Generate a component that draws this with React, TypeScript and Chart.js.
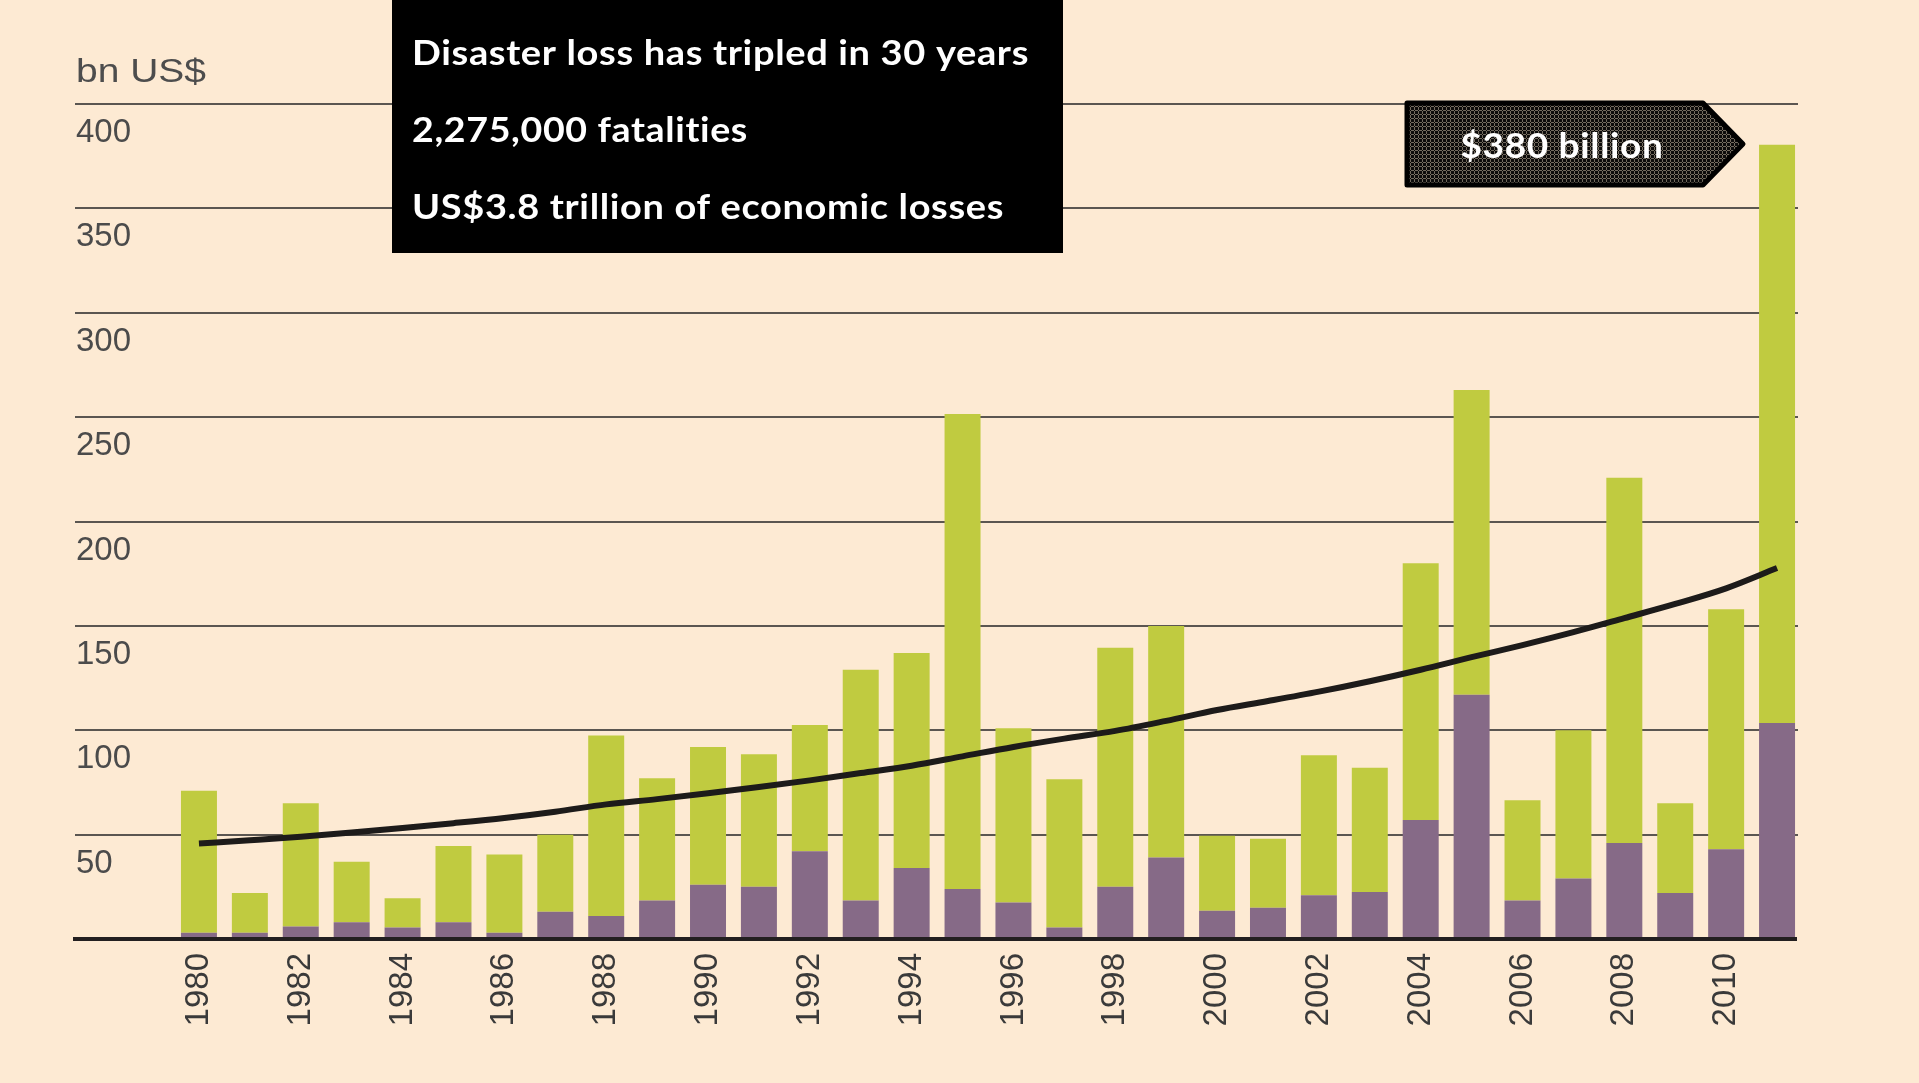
import { useEffect, useRef } from 'react';
import { Chart, registerables } from 'chart.js';

Chart.register(...registerables);

// ---- data (bn US$) ----
const years = [
  '1980', '1981', '1982', '1983', '1984', '1985', '1986', '1987', '1988', '1989',
  '1990', '1991', '1992', '1993', '1994', '1995', '1996', '1997', '1998', '1999',
  '2000', '2001', '2002', '2003', '2004', '2005', '2006', '2007', '2008', '2009',
  '2010', '2011',
];

// purple, bottom segment
const insuredLosses = [
  3, 3, 6, 8, 5.5, 8, 3, 13, 11, 18.5,
  26, 25, 42, 18.5, 34, 24, 17.5, 5.5, 25, 39,
  13.5, 15, 21, 22.5, 57, 117, 18.5, 29, 46, 22,
  43, 103.5,
];

// green, top segment
const uninsuredLosses = [
  68, 19, 59, 29, 14, 36.5, 37.5, 37, 86.5, 58.5,
  66, 63.5, 60.5, 110.5, 103, 227.5, 83.5, 71, 114.5, 111,
  36, 33, 67, 59.5, 123, 146, 48, 71, 175, 43,
  115, 277,
];

// trend curve
const trendLosses = [
  45.7, 47.3, 49, 51, 53.2, 55.5, 58, 61, 64.5, 67,
  69.8, 72.8, 76, 79.5, 83, 87.5, 92, 96, 99.7, 104.5,
  109.7, 114, 118.5, 123.5, 129, 135, 140.8, 147, 153.7, 160.5,
  168, 177.7,
];

const yMax = 400;
const yStep = 50;
const unitLabel = 'bn US$';
const boxLines = [
  'Disaster loss has tripled in 30 years',
  '2,275,000 fatalities',
  'US$3.8 trillion of economic losses',
];
const calloutText = '$380 billion';

const BG = '#FDEAD3';
const GREEN = '#C0CB40';
const PURPLE = '#866A87';
const AXIS_FONT = 'Liberation Sans';
const BOX_FONT = 'Lato';

function fitText(ctx: CanvasRenderingContext2D, text: string, x: number, y: number, targetW: number, align: 'left' | 'center') {
  const w = ctx.measureText(text).width;
  const sx = targetW / w;
  ctx.save();
  ctx.translate(x, y);
  ctx.scale(sx, 1);
  ctx.textAlign = align;
  ctx.textBaseline = 'alphabetic';
  ctx.fillText(text, 0, 0);
  ctx.restore();
}

const gridPlugin = {
  id: 'customGrid',
  beforeDatasetsDraw(chart: any) {
    const { ctx } = chart;
    const y = chart.scales.y;
    ctx.save();
    ctx.strokeStyle = '#5b5651';
    ctx.lineWidth = 2;
    y.ticks.forEach((t: any) => {
      if (t.value <= 0) return;
      const py = Math.round(y.getPixelForValue(t.value));
      ctx.beginPath();
      ctx.moveTo(75, py);
      ctx.lineTo(1798, py);
      ctx.stroke();
    });
    ctx.restore();
  },
  afterDatasetsDraw(chart: any) {
    const { ctx } = chart;
    const y = chart.scales.y;
    const py = y.getPixelForValue(0);
    ctx.save();
    ctx.strokeStyle = '#231f20';
    ctx.lineWidth = 4;
    ctx.beginPath();
    ctx.moveTo(73, py);
    ctx.lineTo(1797, py);
    ctx.stroke();
    ctx.restore();
  },
};

function makePattern(ctx: CanvasRenderingContext2D) {
  const c = document.createElement('canvas');
  c.width = 4;
  c.height = 4;
  const p = c.getContext('2d')!;
  p.fillStyle = '#0d0c0b';
  p.fillRect(0, 0, 4, 4);
  p.fillStyle = '#736b5f';
  p.fillRect(0, 2, 4, 1);
  p.fillRect(2, 0, 1, 4);
  p.fillStyle = '#000';
  p.fillRect(2, 2, 1, 1);
  return ctx.createPattern(c, 'repeat');
}

const overlayPlugin = {
  id: 'overlay',
  afterDraw(chart: any) {
    const { ctx } = chart;
    ctx.save();
    // unit label
    ctx.fillStyle = '#4d4d4d';
    ctx.font = `33px "${AXIS_FONT}"`;
    fitText(ctx, unitLabel, 76, 82, 130, 'left');

    // black text box
    ctx.fillStyle = '#000';
    ctx.fillRect(392, 0, 671, 253);
    ctx.fillStyle = '#fff';
    ctx.font = `bold 35px "${BOX_FONT}"`;
    try { (ctx as any).letterSpacing = '0.6px'; } catch (e) { /* ignore */ }
    const baselines = [65, 142, 219];
    const widths = [617, 336, 592];
    boxLines.forEach((line, i) => fitText(ctx, line, 412, baselines[i], widths[i], 'left'));

    // callout arrow
    ctx.beginPath();
    ctx.moveTo(1407, 103);
    ctx.lineTo(1703, 103);
    ctx.lineTo(1743, 144);
    ctx.lineTo(1703, 185);
    ctx.lineTo(1407, 185);
    ctx.closePath();
    ctx.fillStyle = makePattern(ctx) || '#333';
    ctx.fill();
    ctx.lineJoin = 'round';
    ctx.lineWidth = 5;
    ctx.strokeStyle = '#000';
    ctx.stroke();
    ctx.fillStyle = '#fff';
    ctx.font = `bold 35px "${BOX_FONT}"`;
    fitText(ctx, calloutText, 1562, 158, 203, 'center');
    ctx.restore();
  },
};

export default function App() {
  const ref = useRef<HTMLCanvasElement>(null);

  useEffect(() => {
    if (!ref.current) return;
    const font = { family: AXIS_FONT, size: 33 };
    const chart = new Chart(ref.current, {
      type: 'bar',
      data: {
        labels: years,
        datasets: [
          {
            type: 'line',
            label: 'Trend',
            data: trendLosses,
            borderColor: '#1d1b1a',
            borderWidth: 6,
            pointRadius: 0,
            cubicInterpolationMode: 'monotone',
            fill: false,
            stack: 'trend',
            order: 0,
          } as any,
          {
            type: 'bar',
            label: 'Insured losses',
            data: insuredLosses,
            backgroundColor: PURPLE,
            stack: 'losses',
            order: 1,
            barPercentage: 0.707,
            categoryPercentage: 1,
          },
          {
            type: 'bar',
            label: 'Uninsured losses',
            data: uninsuredLosses,
            backgroundColor: GREEN,
            stack: 'losses',
            order: 1,
            barPercentage: 0.707,
            categoryPercentage: 1,
          },
        ],
      },
      options: {
        responsive: false,
        maintainAspectRatio: false,
        devicePixelRatio: 1,
        animation: false,
        layout: { padding: { left: 76, right: 116.5, top: 104, bottom: 0 } },
        plugins: { legend: { display: false }, tooltip: { enabled: false } },
        scales: {
          x: {
            stacked: true,
            grid: { display: false, drawTicks: false },
            border: { display: false },
            ticks: {
              autoSkip: false,
              maxRotation: 90,
              minRotation: 90,
              padding: 14,
              font,
              color: '#3a3a3a',
              callback(this: any, val: any, idx: number) {
                return idx % 2 === 0 ? this.getLabelForValue(val) : '';
              },
            },
            afterFit(s: any) {
              s.height = 144;
            },
          },
          y: {
            stacked: true,
            min: 0,
            max: yMax,
            grid: { display: false, drawTicks: false },
            border: { display: false },
            ticks: {
              stepSize: yStep,
              labelOffset: 29,
              crossAlign: 'far',
              font,
              color: '#4b4b4b',
              callback: (v: any) => (v === 0 ? '' : String(v)),
            },
            afterFit(s: any) {
              s.width = 97.5;
            },
          },
        },
      },
      plugins: [gridPlugin, overlayPlugin],
    });
    return () => chart.destroy();
  }, []);

  return (
    <div style={{ position: 'fixed', left: 0, top: 0, width: 1919, height: 1083, background: BG }}>
      <canvas ref={ref} width={1919} height={1083} style={{ display: 'block', width: 1919, height: 1083 }} />
    </div>
  );
}
